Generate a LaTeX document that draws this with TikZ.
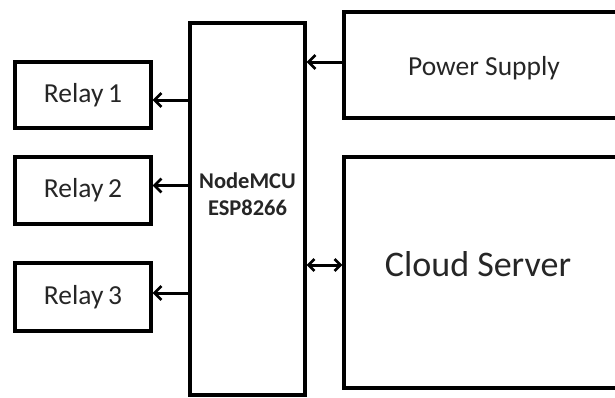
\documentclass[tikz,border=0pt]{standalone}
\usepackage{fontspec}
\setmainfont{Carlito}
\usetikzlibrary{arrows.meta}
\begin{document}
\begin{tikzpicture}[x=1pt,y=-1pt,
  box/.style={draw=black, line width=3.2pt, rectangle, inner sep=0pt, text=black!85},
  tip/.style={},
  conn/.style={line width=3pt, -{Straight Barb[length=7pt,width=14pt,line width=2.6pt]}},
  bconn/.style={line width=3pt, {Straight Barb[length=6pt,width=12pt,line width=2.6pt]}-{Straight Barb[length=6pt,width=12pt,line width=2.6pt]}},
  lbl/.style={font=\fontsize{27.5}{32}\selectfont, text=black!85}]
\useasboundingbox (0,0) rectangle (615,397);
\fill[white] (0,0) rectangle (615,397);
\node[box, minimum width=136pt, minimum height=66pt, lbl] (r1) at (83,95) {Relay\,1};
\node[box, minimum width=136pt, minimum height=67pt, lbl] (r2) at (83,190.5) {Relay\,2};
\node[box, minimum width=136pt, minimum height=68pt, lbl] (r3) at (83,297) {Relay\,3};
\node[box, minimum width=115pt, minimum height=372pt] (mcu) at (247.5,209) {};
\node[font=\fontsize{22.5}{27}\selectfont\bfseries, align=center, text=black!85] (mcul) at (247.5,194) {NodeMCU\\ESP8266};
\node[box, minimum width=281pt, minimum height=106pt] (ps) at (484.5,65) {};
\node[lbl] (psl) at (484,68) {Power Supply};
\node[box, minimum width=281pt, minimum height=231pt] (cs) at (484.5,272.5) {};
\node[font=\fontsize{36}{42}\selectfont, text=black!85] (csl) at (478,264) {Cloud Server};
\draw[conn] ([yshift=3pt]ps.west) -- ([yshift=3pt]ps.west -| mcu.east);
\draw[conn] ([yshift=-5pt]r1.east -| mcu.west) -- ([yshift=-5pt]r1.east);
\draw[conn] ([yshift=5pt]r2.east -| mcu.west) -- ([yshift=5pt]r2.east);
\draw[conn] ([yshift=4pt]r3.east -| mcu.west) -- ([yshift=4pt]r3.east);
\draw[bconn] ([yshift=7.5pt]cs.west) -- ([yshift=7.5pt]cs.west -| mcu.east);
\end{tikzpicture}
\end{document}
